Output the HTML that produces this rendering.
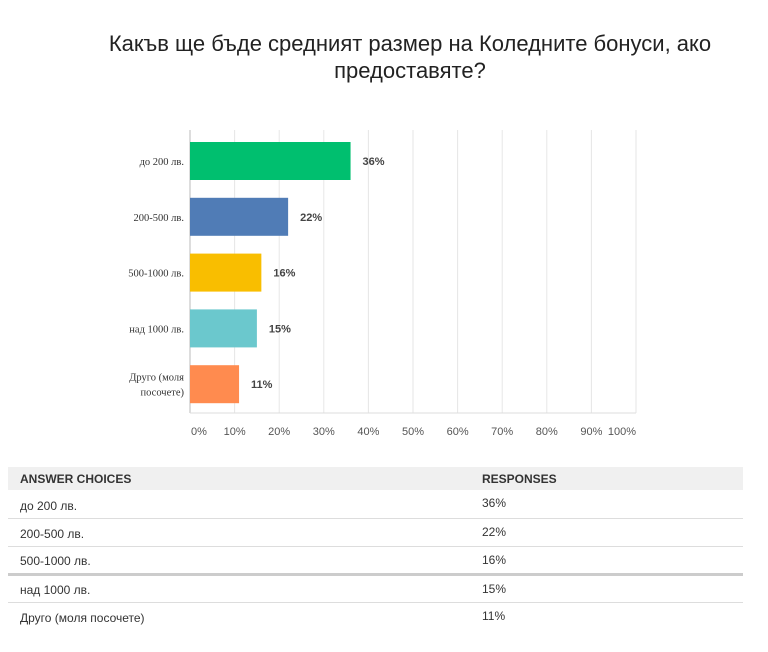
<!DOCTYPE html>
<html><head><meta charset="utf-8"><style>
body{margin:0;background:#fff;font-family:"Liberation Sans",sans-serif;}
#wrap{position:relative;width:768px;height:652px;overflow:hidden;}
#title{position:absolute;left:40px;width:740px;top:30px;text-align:center;font-size:22px;line-height:27px;color:#222;}
table{position:absolute;left:8px;top:467px;width:735px;border-collapse:collapse;font-size:12px;color:#333;}
th{background:#f0f0f0;text-align:left;font-weight:bold;height:23px;padding:0 0 0 12px;}
td{height:28px;border-bottom:1.5px solid #ddd;padding:0 0 0 12px;vertical-align:bottom;padding-bottom:5px;box-sizing:border-box;}
td.r{vertical-align:top;padding-top:6px;padding-bottom:0;}
tr:last-child td{border-bottom:none;}
</style></head><body>
<div id="wrap">
<div id="title">Какъв ще бъде средният размер на Коледните бонуси, ако<br>предоставяте?</div>
<svg id="chart" width="768" height="450" style="position:absolute;left:0;top:0"></svg>
<table>
<tr><th style="width:450px">ANSWER CHOICES</th><th>RESPONSES</th></tr>
<tr><td>до 200 лв.</td><td class="r">36%</td></tr>
<tr><td>200-500 лв.</td><td class="r">22%</td></tr>
<tr><td style="border-bottom:3px solid #ccc">500-1000 лв.</td><td class="r" style="border-bottom:3px solid #ccc">16%</td></tr>
<tr><td>над 1000 лв.</td><td class="r">15%</td></tr>
<tr><td>Друго (моля посочете)</td><td class="r">11%</td></tr>
</table>
</div>
<script>
const categories=[["до 200 лв."],["200-500 лв."],["500-1000 лв."],["над 1000 лв."],["Друго (моля","посочете)"]];
const values=[36,22,16,15,11];
const colors=["#00bf6f","#507cb6","#f9be00","#6bc8cd","#ff8b4f"];
const ticks=[0,10,20,30,40,50,60,70,80,90,100];
const NS="http://www.w3.org/2000/svg";
const svg=document.getElementById('chart');
const x0=190,x1=636,top0=130,bot=413,rowTop=142,pitch=55.8,bh=38;
const xs=v=>x0+(x1-x0)*v/100;
function mk(t,a){const e=document.createElementNS(NS,t);for(const k in a)e.setAttribute(k,a[k]);svg.appendChild(e);return e;}
ticks.forEach(t=>{
 const g=mk('line',{x1:xs(t),x2:xs(t),y1:top0,y2:bot,stroke:t===0?'#bbb':'#e6e6e6','stroke-width':1});
 
 
 const anchor=t===ticks[0]?'start':(t===ticks[ticks.length-1]?'end':'middle');
 const l=mk('text',{x:xs(t)+(anchor==='start'?1:0),y:435,'font-size':11,fill:'#555','text-anchor':anchor,'font-family':'Liberation Sans, sans-serif'});
 l.textContent=t+'%';
 
 
});
mk('line',{x1:x0,x2:x1,y1:bot,y2:bot,stroke:'#ddd'});
values.forEach((v,i)=>{
 const y=rowTop+i*pitch;
 const r=mk('rect',{x:x0,y:y,width:xs(v)-x0,height:bh,fill:colors[i]});
 
 
 const t=mk('text',{x:xs(v)+12,y:y+bh/2+4,'font-size':11,fill:'#444','font-weight':'bold','font-family':'Liberation Sans, sans-serif'});
 t.textContent=v+'%';
 
 
 const lines=categories[i];
 lines.forEach((s,j)=>{
  const c=mk('text',{x:184,y:y+bh/2+4+(j-(lines.length-1)/2)*15,'font-size':10.5,fill:'#333','text-anchor':'end','font-family':'Liberation Serif, serif'});
  c.textContent=s;
  
  
 });
});
</script>
</body></html>
